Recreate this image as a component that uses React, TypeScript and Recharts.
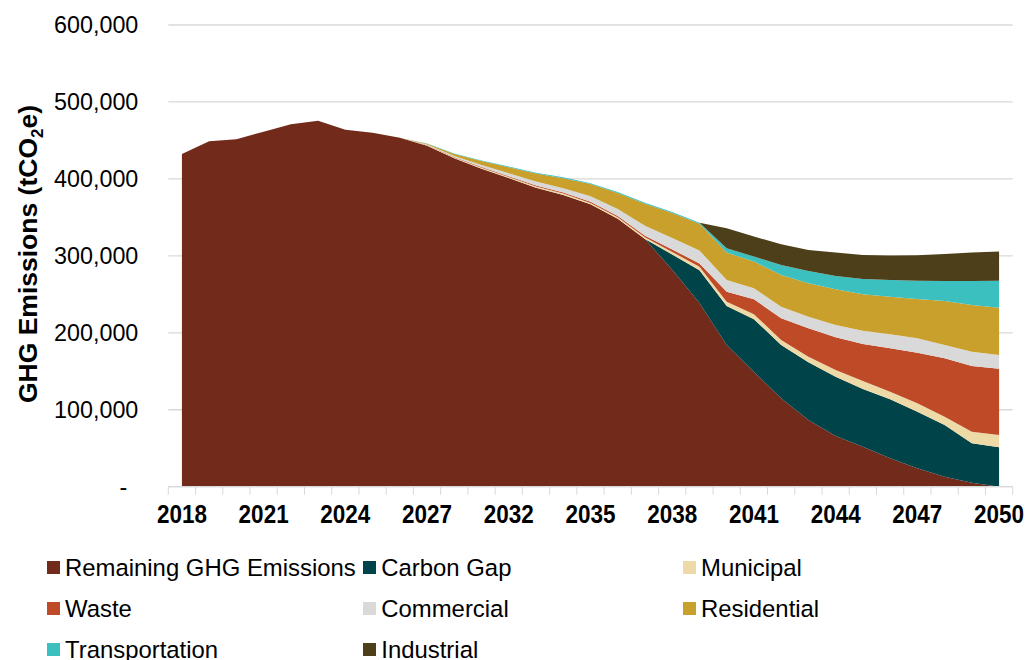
import { AreaChart, Area, XAxis, YAxis, CartesianGrid } from "recharts"

const years = [
  "2018", "2019", "2020", "2021", "2022", "2023", "2024", "2025", "2026", "2027", "2028",
  "2030", "2032", "2033", "2034", "2035", "2036", "2037", "2038", "2039", "2040",
  "2041", "2042", "2043", "2044", "2045", "2046", "2047", "2048", "2049", "2050",
]

const remaining = [
  432400, 448900, 451500, 461400, 471000, 475700, 464000, 460000, 453600, 443000, 426800,
  413200, 401100, 388600, 379200, 367000, 348300, 322000, 281800, 238800, 184200,
  149100, 114900, 86700, 65900, 52000, 36900, 23900, 13000, 5200, 0,
]
const carbonGap = [
  0, 0, 0, 0, 0, 0, 0, 0, 0, 0, 0,
  0, 0, 0, 0, 0, 0, 0, 20100, 42600, 50700,
  68500, 69300, 75000, 77100, 75000, 76700, 73600, 67200, 51200, 51200,
]
const municipal = [
  0, 0, 0, 0, 0, 0, 0, 0, 0, 650, 1000,
  1300, 1300, 1600, 1700, 1800, 1900, 2300, 3200, 4400, 5600,
  6500, 6500, 7300, 8700, 10400, 9900, 10900, 10800, 15100, 16000,
]
const waste = [
  0, 0, 0, 0, 0, 0, 0, 0, 0, 400, 650,
  900, 1000, 1200, 1300, 1400, 1700, 1900, 3200, 4300, 13000,
  19500, 28200, 36900, 42500, 48100, 56400, 65800, 75900, 85400, 86200,
]
const commercial = [
  0, 0, 0, 0, 0, 0, 0, 0, 0, 500, 1300,
  2600, 3900, 5200, 5800, 7100, 9100, 13000, 14900, 16900, 15200,
  14300, 15100, 15100, 16000, 17300, 18200, 18700, 17300, 18600, 17800,
]
const residential = [
  0, 0, 0, 0, 0, 0, 0, 0, 0, 1000, 2600,
  5200, 7800, 10400, 13000, 16200, 20800, 28600, 32500, 34700, 35500,
  34600, 41200, 43400, 46400, 47300, 48900, 51100, 57200, 60700, 61500,
]
const transportation = [
  0, 0, 0, 0, 0, 0, 0, 0, 0, 400, 650,
  800, 900, 1000, 1000, 1000, 1200, 1200, 1300, 1300, 5700,
  6500, 13000, 16000, 17300, 19900, 21700, 23800, 26000, 31200, 35100,
]
const industrial = [
  0, 0, 0, 0, 0, 0, 0, 0, 0, 0, 0,
  0, 0, 0, 0, 0, 0, 0, 0, 0, 26000,
  26000, 26900, 27300, 30300, 31200, 31600, 33000, 35100, 36800, 37700,
]

const yTicks = [0, 100000, 200000, 300000, 400000, 500000, 600000]

const series = [
  { key: "remaining", name: "Remaining GHG Emissions", color: "#722A1A", values: remaining },
  { key: "carbonGap", name: "Carbon Gap", color: "#00444A", values: carbonGap },
  { key: "municipal", name: "Municipal", color: "#EDDAA6", values: municipal },
  { key: "waste", name: "Waste", color: "#BF4A27", values: waste },
  { key: "commercial", name: "Commercial", color: "#D9D9D9", values: commercial },
  { key: "residential", name: "Residential", color: "#C9A02C", values: residential },
  { key: "transportation", name: "Transportation", color: "#3CBFBF", values: transportation },
  { key: "industrial", name: "Industrial", color: "#4D3F19", values: industrial },
]

const data = years.map((year, i) => {
  const row: Record<string, string | number> = { year }
  series.forEach((s) => {
    row[s.key] = s.values[i]
  })
  return row
})

const FONT = '"Liberation Sans", Arial, sans-serif'
const HALF = 13.62

const renderXTick = (props: any) => {
  const { x, y, payload } = props
  const i = payload?.index ?? props.index
  return (
    <g>
      <line x1={x - HALF} x2={x - HALF} y1={y} y2={y + 8} stroke="#d9d9d9" />
      {i === years.length - 1 && <line x1={x + HALF} x2={x + HALF} y1={y} y2={y + 8} stroke="#d9d9d9" />}
      {i % 3 === 0 && (
        <text
          transform={`translate(${x},${y + 36.6}) scale(1,1.12)`}
          textAnchor="middle"
          fontFamily={FONT}
          fontWeight="bold"
          fontSize={22.5}
          fill="#000"
        >
          {payload.value}
        </text>
      )}
    </g>
  )
}

const fmtY = (v: number) => (v === 0 ? "-\u00a0\u2009" : v.toLocaleString("en-US"))

export default function App() {
  return (
    <div style={{ position: "relative", width: 1026, height: 660, overflow: "hidden", fontFamily: FONT }}>
      <style>{"body{margin:0}"}</style>
      <AreaChart width={1026} height={538} data={data} margin={{ top: 25, right: 13.3, left: 0.3, bottom: 11.3 }}>
        <CartesianGrid vertical={false} stroke="#d9d9d9" strokeWidth={1.3} />
        <XAxis
          dataKey="year"
          interval={0}
          tickLine={false}
          tickSize={0}
          tickMargin={0}
          height={40}
          axisLine={{ stroke: "#d9d9d9", strokeWidth: 1.3 }}
          padding={{ left: HALF, right: HALF }}
          tick={renderXTick}
        />
        <YAxis
          width={168}
          domain={[0, 600000]}
          ticks={yTicks}
          axisLine={false}
          tickLine={false}
          tickSize={0}
          tickMargin={30}
          tickFormatter={fmtY}
          tick={{ fill: "#000", fontSize: 23.3, fontFamily: FONT }}
        />
        {series.map((s) => (
          <Area
            key={s.key}
            type="linear"
            dataKey={s.key}
            name={s.name}
            stackId="1"
            stroke="none"
            fill={s.color}
            fillOpacity={1}
            isAnimationActive={false}
          />
        ))}
        <text
          transform="translate(36.7,254) rotate(-90)"
          textAnchor="middle"
          fontFamily={FONT}
          fontWeight="bold"
          fontSize={26.5}
          fill="#000"
        >
          GHG Emissions (tCO
          <tspan fontSize={17} dy={6}>2</tspan>
          <tspan dy={-6}>e)</tspan>
        </text>
      </AreaChart>
      {series.map((s, i) => {
        const col = i % 3
        const row = Math.floor(i / 3)
        const left = [47, 363.3, 683][col]
        const top = 560.7 + row * 41
        return (
          <div
            key={s.key}
            style={{ position: "absolute", left, top, display: "flex", alignItems: "center", whiteSpace: "nowrap" }}
          >
            <span style={{ width: 12.7, height: 12.7, background: s.color, display: "inline-block", marginRight: 5.3 }} />
            <span style={{ fontSize: 23.9, color: "#000", lineHeight: "13px" }}>{s.name}</span>
          </div>
        )
      })}
    </div>
  )
}
